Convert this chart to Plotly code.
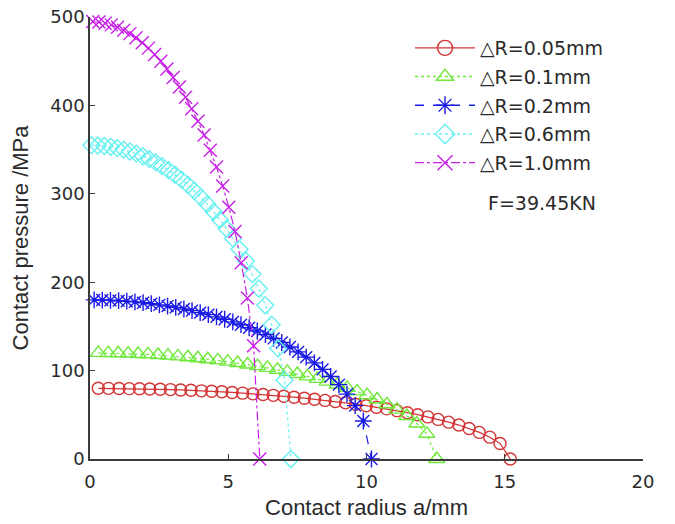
import plotly.graph_objects as go

# ---------------- data ----------------
labels = ["△R=0.05mm", "△R=0.1mm", "△R=0.2mm", "△R=0.6mm", "△R=1.0mm"]

r005 = [0.30, 0.67, 1.05, 1.42, 1.79, 2.16, 2.54, 2.91, 3.28, 3.65, 4.03, 4.40, 4.77, 5.14,
        5.52, 5.89, 6.26, 6.63, 7.01, 7.38, 7.75, 8.12, 8.50, 8.87, 9.24, 9.61, 9.99, 10.36,
        10.73, 11.10, 11.48, 11.85, 12.22, 12.59, 12.97, 13.34, 13.71, 14.08, 14.46, 14.83, 15.20]
p005 = [80.0, 79.9, 79.8, 79.6, 79.4, 79.2, 78.9, 78.5, 78.1, 77.7, 77.1, 76.6, 76.0, 75.3,
        74.5, 73.7, 72.9, 72.0, 71.0, 69.9, 68.8, 67.6, 66.3, 65.0, 63.5, 62.0, 60.3, 58.5,
        56.7, 54.7, 52.4, 50.1, 47.6, 44.8, 41.7, 38.4, 34.5, 30.1, 24.7, 17.5, 0.0]

r01 = [0.30, 0.66, 1.02, 1.38, 1.74, 2.10, 2.46, 2.82, 3.18, 3.54, 3.90, 4.26, 4.62, 4.98,
       5.34, 5.70, 6.06, 6.42, 6.78, 7.14, 7.50, 7.86, 8.22, 8.58, 8.94, 9.30, 9.66, 10.02,
       10.38, 10.74, 11.10, 11.46, 11.82, 12.18, 12.54]
p01 = [120.0, 119.8, 119.6, 119.3, 118.8, 118.3, 117.7, 116.9, 116.1, 115.1, 114.0, 112.9,
       111.6, 110.1, 108.6, 106.9, 105.1, 103.1, 100.9, 98.6, 96.2, 93.5, 90.6, 87.5, 84.2,
       80.5, 76.5, 72.2, 67.3, 61.9, 55.8, 48.7, 40.1, 28.5, 0.0]

r02 = [0.15, 0.445, 0.74, 1.035, 1.33, 1.625, 1.92, 2.215, 2.51, 2.805, 3.10, 3.395, 3.69,
       3.985, 4.28, 4.575, 4.87, 5.165, 5.46, 5.755, 6.05, 6.345, 6.64, 6.935, 7.23, 7.525,
       7.82, 8.115, 8.41, 8.705, 9.00, 9.295, 9.59, 9.885, 10.18]
p02 = [180.0, 179.8, 179.5, 179.1, 178.5, 177.7, 176.8, 175.7, 174.4, 173.0, 171.5, 169.7,
       167.8, 165.6, 163.3, 160.8, 158.1, 155.1, 151.9, 148.5, 144.8, 140.8, 136.4, 131.8,
       126.7, 121.2, 115.2, 108.7, 101.4, 93.3, 84.1, 73.4, 60.4, 43.0, 0.0]

r06 = [0.05, 0.283, 0.516, 0.749, 0.982, 1.215, 1.447, 1.680, 1.913, 2.146, 2.379, 2.612,
       2.845, 3.078, 3.311, 3.544, 3.776, 4.009, 4.242, 4.475, 4.708, 4.941, 5.174, 5.407,
       5.640, 5.873, 6.105, 6.338, 6.571, 6.804, 7.037, 7.27]
p06 = [355.0, 354.7, 354.1, 353.1, 351.7, 350.0, 347.9, 345.4, 342.5, 339.2, 335.5, 331.3,
       326.7, 321.6, 316.0, 310.0, 303.4, 296.1, 288.3, 279.8, 270.5, 260.4, 249.4, 237.3,
       224.0, 209.2, 192.8, 173.9, 151.9, 125.1, 89.2, 0.0]

r10 = [0.100, 0.324, 0.547, 0.771, 0.995, 1.219, 1.442, 1.666, 1.890, 2.113, 2.337, 2.561,
       2.784, 3.008, 3.232, 3.456, 3.679, 3.903, 4.127, 4.350, 4.574, 4.798, 5.021, 5.245,
       5.469, 5.692, 5.916, 6.14]
p10 = [494.9, 494.3, 493.0, 491.1, 488.5, 485.1, 481.2, 476.4, 471.0, 464.8, 457.7, 449.9,
       441.2, 431.5, 420.9, 409.1, 396.3, 382.1, 366.5, 349.3, 330.2, 308.9, 284.9, 257.4,
       222.0, 182.0, 128.0, 0.0]

series_r = [r005, r01, r02, r06, r10]
series_p = [p005, p01, p02, p06, p10]

colors = ["#d43434", "#6ee83a", "#1a1ae6", "#66f0f0", "#c81ee8"]
symbols = ["circle-open", "triangle-up-open", "asterisk-open", "diamond-open", "x-thin-open"]
dashes = ["solid", "dot", "dash", "dot", "dashdot"]
msizes = [12, 14, 14, 13, 13]

fig = go.Figure()

for r, p, c, s, d, ms in zip(series_r, series_p, colors, symbols, dashes, msizes):
    fig.add_trace(go.Scatter(
        x=r, y=p, mode="lines+markers", showlegend=False, cliponaxis=False,
        line=dict(color=c, width=1.2, dash=d),
        marker=dict(symbol=s, size=ms, color=c, line=dict(color=c, width=1.4)),
    ))

# legend entries (larger markers, as in the reference legend)
for i, (lab, c, s, d) in enumerate(zip(labels, colors, symbols, dashes)):
    fig.add_trace(go.Scatter(
        x=[None], y=[None], mode="lines+markers", name=lab, legendgroup=f"g{i}",
        line=dict(color=c, width=1.4, dash=d),
        marker=dict(symbol=s, size=15, color=c, line=dict(color=c, width=1.4)),
    ))

axis_col = "#3a3a3a"
fig.update_layout(
    width=675, height=524,
    margin=dict(l=90, r=32, t=17, b=65),
    plot_bgcolor="white", paper_bgcolor="white",
    font=dict(family="DejaVu Sans", size=18, color="#2a2a2a"),
    xaxis=dict(
        range=[0, 20], tickvals=[0, 5, 10, 15, 20], showgrid=False, zeroline=False,
        showline=True, linecolor=axis_col, linewidth=1.6, mirror=False,
        ticks="inside", ticklen=5, tickcolor=axis_col, tickwidth=1.2,
        ticklabelstandoff=6, automargin=False,
        tickfont=dict(family="DejaVu Sans", size=18, color="#2a2a2a"),
        title=dict(text="Contact radius a/mm", standoff=8,
                   font=dict(family="Liberation Sans", size=22, color="#2a2a2a")),
    ),
    yaxis=dict(
        range=[0, 500], tickvals=[0, 100, 200, 300, 400, 500], showgrid=False, zeroline=False,
        showline=True, linecolor=axis_col, linewidth=1.6, mirror=False,
        ticks="inside", ticklen=5, tickcolor=axis_col, tickwidth=1.2, automargin=False,
        tickfont=dict(family="DejaVu Sans", size=18, color="#2a2a2a"),
        title=dict(text="Contact pressure /MPa", standoff=16,
                   font=dict(family="Liberation Sans", size=22, color="#2a2a2a")),
    ),
    legend=dict(
        x=(410 - 90) / 553, y=(459 - 29) / 442, xanchor="left", yanchor="top",
        bgcolor="rgba(0,0,0,0)", font=dict(family="DejaVu Sans", size=19, color="#2a2a2a"),
        tracegroupgap=1, itemwidth=60,
    ),
    annotations=[dict(
        text="F=39.45KN", xref="paper", yref="paper",
        x=(486 - 90) / 553, y=(459 - 203) / 442, xanchor="left", yanchor="middle",
        showarrow=False, font=dict(family="DejaVu Sans", size=19, color="#2a2a2a"),
    )],
)

fig.write_html("out.html")
